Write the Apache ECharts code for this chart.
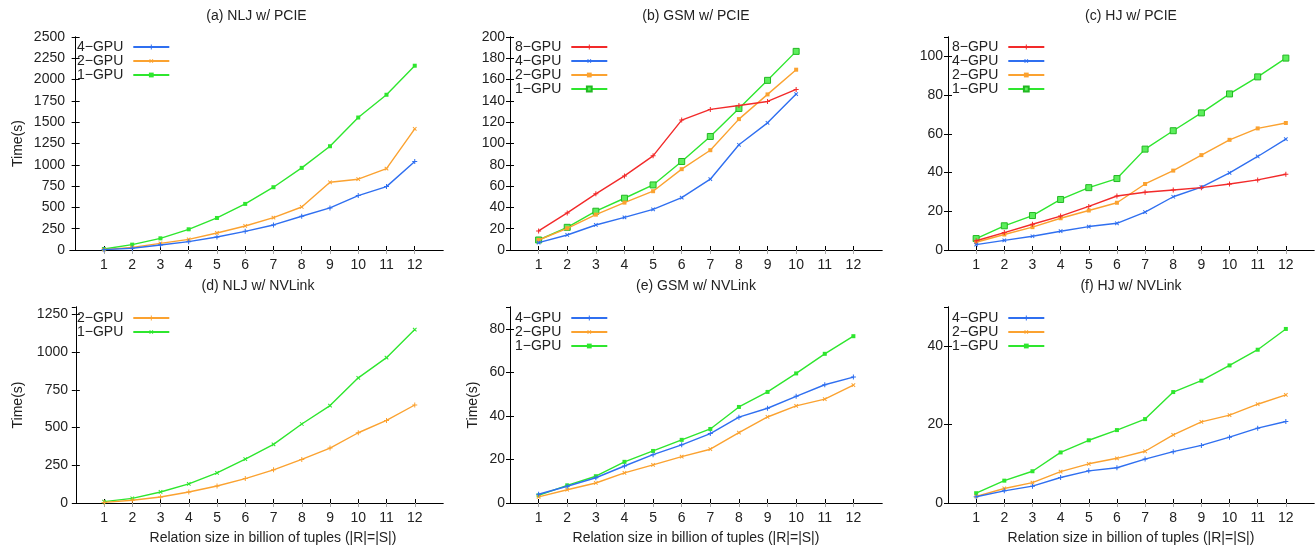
<!DOCTYPE html>
<html>
<head>
<meta charset="utf-8">
<script src="https://cdn.jsdelivr.net/npm/echarts@6/dist/echarts.min.js"></script>
<style>
  html, body { margin: 0; padding: 0; background: #fff; }
  #chart { width: 1315px; height: 546px; }
</style>
</head>
<body>
<div id="chart"></div>
<script>
// x categories: relation size in billion of tuples
const sizes = [1, 2, 3, 4, 5, 6, 7, 8, 9, 10, 11, 12];

// (a) NLJ w/ PCIE
const nljPcie4 = [4, 20, 59, 98, 153, 219, 294, 396, 494, 639, 744, 1038];
const nljPcie2 = [5, 31, 78, 125, 200, 282, 380, 505, 795, 831, 956, 1422];
const nljPcie1 = [12, 63, 137, 243, 376, 541, 737, 964, 1218, 1555, 1822, 2163];

// (b) GSM w/ PCIE (only 1..10)
const gsmPcie8 = [17.9, 34.8, 52.7, 69.6, 88.4, 122, 132, 135.7, 139.5, 150.8];
const gsmPcie4 = [6.9, 14.1, 23.5, 30.7, 38.2, 49.2, 66.5, 98.8, 119.4, 146.4];
const gsmPcie2 = [9.4, 20.4, 33.2, 44.5, 55.2, 75.9, 93.7, 122.9, 146.1, 169.3];
const gsmPcie1 = [9.4, 21.3, 36.4, 48.6, 61.1, 83.1, 106.6, 132.9, 159.3, 186.5];

// (c) HJ w/ PCIE
const hjPcie8 = [4.8, 9.0, 13.3, 17.5, 22.5, 27.9, 29.8, 31.0, 32.2, 34.1, 36.2, 39.1];
const hjPcie4 = [2.8, 5.0, 7.1, 9.7, 12.1, 13.8, 19.6, 27.5, 32.5, 39.8, 48.3, 57.3];
const hjPcie2 = [4.0, 8.0, 11.8, 16.4, 20.4, 24.4, 34.1, 41.0, 49.0, 56.9, 62.8, 65.6];
const hjPcie1 = [5.9, 12.5, 17.8, 26.1, 32.2, 36.9, 52.1, 61.6, 70.8, 80.6, 89.4, 99.1];

// (d) NLJ w/ NVLink
const nljNv2 = [4, 18, 40, 73, 113, 162, 220, 289, 364, 466, 548, 650];
const nljNv1 = [9, 31, 73, 127, 200, 291, 389, 524, 646, 830, 964, 1150];

// (e) GSM w/ NVLink
const gsmNv4 = [4.0, 7.7, 11.6, 17.0, 22.2, 26.7, 31.9, 39.4, 43.5, 49.0, 54.3, 57.8];
const gsmNv2 = [2.8, 6.1, 9.2, 13.8, 17.5, 21.3, 24.7, 32.3, 39.5, 44.6, 47.7, 54.1];
const gsmNv1 = [3.5, 8.1, 12.3, 18.9, 23.9, 29.0, 34.0, 44.1, 51.0, 59.5, 68.5, 76.6];

// (f) HJ w/ NVLink
const hjNv4 = [1.6, 3.1, 4.3, 6.5, 8.2, 9.0, 11.2, 13.1, 14.7, 16.8, 19.1, 20.8];
const hjNv2 = [1.7, 3.7, 5.2, 8.0, 10.0, 11.4, 13.2, 17.4, 20.7, 22.4, 25.2, 27.6];
const hjNv1 = [2.5, 5.7, 8.1, 12.9, 16.0, 18.6, 21.4, 28.3, 31.2, 35.1, 39.1, 44.4];

const FONT = '"Liberation Sans", Arial, sans-serif';
const TXT = '#222';
const RED = '#f22a2a', BLUE = '#2f6ff0', ORANGE = '#fba230', GREEN = '#2ee62e';

const PLUS = 'path://M0,4H10V6H0ZM4,0H6V10H4Z';
const mk = {
  plus: { symbol: PLUS, symbolSize: 5, symbolRotate: 0 },
  cross: { symbol: PLUS, symbolSize: 5, symbolRotate: 45 },
  sq: { symbol: 'rect', symbolSize: 4, symbolRotate: 0 },
  bigSq: { symbol: 'rect', symbolSize: 6, symbolRotate: 0, border: true }
};

// one entry per subplot
const panels = [
  { id: 'a', title: '(a) NLJ w/ PCIE', grid: [70, 37, 373, 213], xmin: -0.2, ymax: 2500, step: 250,
    yName: true, yGap: 45, legend: [77, 40],
    lines: [['4−GPU', nljPcie4, BLUE, mk.plus], ['2−GPU', nljPcie2, ORANGE, mk.cross], ['1−GPU', nljPcie1, GREEN, mk.sq]] },
  { id: 'b', title: '(b) GSM w/ PCIE', grid: [510, 37, 372, 213], xmin: 0, ymax: 200, step: 20,
    legend: [515, 40],
    lines: [['8−GPU', gsmPcie8, RED, mk.plus], ['4−GPU', gsmPcie4, BLUE, mk.cross], ['2−GPU', gsmPcie2, ORANGE, mk.sq], ['1−GPU', gsmPcie1, GREEN, mk.bigSq]] },
  { id: 'c', title: '(c) HJ w/ PCIE', grid: [948, 37, 366, 213], xmin: 0, ymax: 110, step: 20,
    legend: [952, 40],
    lines: [['8−GPU', hjPcie8, RED, mk.plus], ['4−GPU', hjPcie4, BLUE, mk.cross], ['2−GPU', hjPcie2, ORANGE, mk.sq], ['1−GPU', hjPcie1, GREEN, mk.bigSq]] },
  { id: 'd', title: '(d) NLJ w/ NVLink', grid: [73, 307, 370, 196], xmin: -0.1, ymax: 1300, step: 250,
    yName: true, yGap: 48, xName: true, xShift: 30, legend: [77, 311],
    lines: [['2−GPU', nljNv2, ORANGE, mk.plus], ['1−GPU', nljNv1, GREEN, mk.cross]] },
  { id: 'e', title: '(e) GSM w/ NVLink', grid: [510, 307, 372, 196], xmin: 0, ymax: 90, step: 20,
    yName: true, yGap: 30, xName: true, xShift: 0, legend: [515, 311],
    lines: [['4−GPU', gsmNv4, BLUE, mk.plus], ['2−GPU', gsmNv2, ORANGE, mk.cross], ['1−GPU', gsmNv1, GREEN, mk.sq]] },
  { id: 'f', title: '(f) HJ w/ NVLink', grid: [948, 307, 366, 196], xmin: 0, ymax: 50, step: 20,
    xName: true, xShift: 0, legend: [952, 311],
    lines: [['4−GPU', hjNv4, BLUE, mk.plus], ['2−GPU', hjNv2, ORANGE, mk.cross], ['1−GPU', hjNv1, GREEN, mk.sq]] }
];

const grids = [], xAxes = [], yAxes = [], series = [], legends = [];
const tickStyle = { inside: true, length: 4, lineStyle: { color: '#000' } };

panels.forEach((p, i) => {
  grids.push({ left: p.grid[0], top: p.grid[1], width: p.grid[2], height: p.grid[3] });

  // bottom x axis
  xAxes.push({
    type: 'value', gridIndex: i, position: 'bottom', min: p.xmin, max: 13,
    axisLine: { lineStyle: { color: '#000', width: 1 } },
    axisTick: Object.assign({ customValues: sizes }, tickStyle),
    axisLabel: { customValues: sizes, color: TXT, fontSize: 14, fontFamily: FONT, margin: 8 },
    splitLine: { show: false },
    name: p.xName ? 'Relation size in billion of tuples (|R|=|S|)' : '',
    nameLocation: 'middle', nameGap: 28,
    nameTextStyle: { color: TXT, fontSize: 14, fontFamily: FONT, padding: [0, 0, 0, p.xShift || 0] }
  });
  // top mirror axis, carries the subplot title
  xAxes.push({
    type: 'value', gridIndex: i, position: 'top', min: p.xmin, max: 13,
    axisLine: { lineStyle: { color: '#000', width: 1 } },
    axisTick: { customValues: sizes, inside: true, length: 4, lineStyle: { color: '#aaa' } },
    axisLabel: { show: false },
    splitLine: { show: false },
    name: p.title, nameLocation: 'middle', nameGap: 14,
    nameTextStyle: { color: TXT, fontSize: 14, fontFamily: FONT }
  });

  const yBase = {
    type: 'value', gridIndex: i, min: 0, max: p.ymax, interval: p.step,
    splitLine: { show: false },
    axisLine: { show: true, lineStyle: { color: '#000', width: 1 } },
    axisTick: tickStyle
  };
  yAxes.push(Object.assign({}, yBase, {
    position: 'left',
    axisLabel: { color: TXT, fontSize: 14, fontFamily: FONT, margin: 5,
      showMaxLabel: p.ymax % p.step === 0, formatter: v => String(v) },
    name: p.yName ? 'Time(s)' : '', nameLocation: 'middle', nameGap: p.yGap || 40,
    nameTextStyle: { color: TXT, fontSize: 14, fontFamily: FONT }
  }));
  yAxes.push(Object.assign({}, yBase, { position: 'right', axisLabel: { show: false } }));

  const names = [];
  p.lines.forEach(([label, vals, color, m]) => {
    const name = p.id + ':' + label;
    names.push(name);
    series.push({
      name: name, type: 'line', xAxisIndex: 2 * i, yAxisIndex: 2 * i,
      data: vals.map((v, k) => [sizes[k], v]),
      symbol: m.symbol, symbolSize: m.symbolSize, symbolRotate: m.symbolRotate,
      showAllSymbol: true,
      lineStyle: { color: color, width: 1.4 },
      itemStyle: m.border ? { color: '#5cef5c', borderColor: '#22b822', borderWidth: 1 } : { color: color },
      emphasis: { disabled: true },
      z: 10 - names.length
    });
  });

  legends.push({
    orient: 'vertical', left: p.legend[0], top: p.legend[1], padding: 0,
    align: 'right', itemWidth: 36, itemHeight: 6, itemGap: 0,
    selectedMode: false, data: names,
    formatter: n => n.split(':')[1],
    textStyle: { color: TXT, fontSize: 14, fontFamily: FONT, lineHeight: 14, padding: [0, 5, 0, 0] }
  });
});

const chart = echarts.init(document.getElementById('chart'), null, { renderer: 'canvas' });
chart.setOption({
  animation: false,
  backgroundColor: '#fff',
  textStyle: { fontFamily: FONT },
  grid: grids, xAxis: xAxes, yAxis: yAxes, series: series, legend: legends
});
</script>
</body>
</html>
